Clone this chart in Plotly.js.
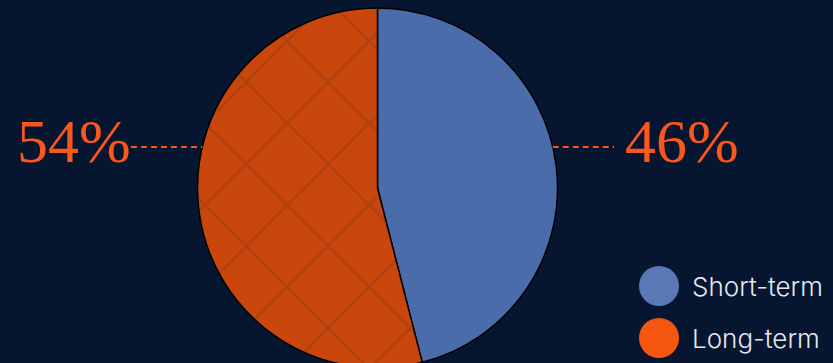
<!DOCTYPE html>
<html>
<head>
<meta charset="utf-8">
<script src="https://cdn.plot.ly/plotly-3.0.1.min.js"></script>
<style>
  html, body { margin: 0; padding: 0; background: #061530; overflow: hidden; }
  #chart { width: 833px; height: 376px; }
</style>
</head>
<body>
<div id="chart"></div>
<script>
// ---- data ----
const labels = ['Short-term', 'Long-term'];
const values = [46, 54];
const sliceColors = ['#4a6cab', '#c9460d'];
const legendColors = ['#5a78b6', '#f4560f'];
const labelColor = '#f9571b';

// ---- layout geometry (pixels) ----
const W = 833, H = 376, T = 8, B = 8;
const plotH = H - T - B;          // 360
const cx = 377.5, R = 180;
const px = x => x / W;
const py = y => (H - B - y) / plotH;  // y measured from top of page

const total = values.reduce((a, b) => a + b, 0);
const pct = values.map(v => Math.round(v / total * 100) + '%');

const trace = {
  type: 'pie',
  labels: labels,
  values: values,
  sort: false,
  direction: 'clockwise',
  rotation: 0,
  textinfo: 'none',
  hoverinfo: 'none',
  showlegend: false,
  domain: { x: [px(cx - R), px(cx + R)], y: [0, 1] },
  marker: {
    colors: sliceColors,
    line: { color: '#000000', width: 1.5 },
    pattern: {
      shape: ['', 'x'],
      size: 58,
      solidity: 0.09,
      bgcolor: sliceColors,
      fgcolor: '#a63f0f',
      fgopacity: 0.65
    }
  }
};

const labelY = 147;
const dy = labelY - (T + R);
const dx = Math.sqrt(R * R - dy * dy);

const shapes = [
  { type: 'line', xref: 'paper', yref: 'paper', x0: px(131), x1: px(cx - dx), y0: py(labelY), y1: py(labelY),
    line: { color: labelColor, width: 2, dash: '6px,4px' } },
  { type: 'line', xref: 'paper', yref: 'paper', x0: px(cx + dx), x1: px(614), y0: py(labelY), y1: py(labelY),
    line: { color: labelColor, width: 2, dash: '6px,4px' } }
];

const annotations = [
  { xref: 'paper', yref: 'paper', x: px(133), y: py(141), xanchor: 'right', yanchor: 'middle',
    text: pct[1], showarrow: false, font: { family: 'Liberation Serif, serif', size: 62, color: labelColor } },
  { xref: 'paper', yref: 'paper', x: px(623), y: py(141), xanchor: 'left', yanchor: 'middle',
    text: pct[0], showarrow: false, font: { family: 'Liberation Serif, serif', size: 62, color: labelColor } }
];

// custom legend with circles
const legendX = 659, legendY0 = 286, legendStep = 52;
labels.forEach((lab, i) => {
  const yc = legendY0 + i * legendStep;
  shapes.push({
    type: 'circle', xref: 'paper', yref: 'paper',
    xsizemode: 'pixel', ysizemode: 'pixel',
    xanchor: px(legendX), yanchor: py(yc),
    x0: -20, x1: 20, y0: -20, y1: 20,
    fillcolor: legendColors[i], line: { width: 0 }
  });
  annotations.push({
    xref: 'paper', yref: 'paper', x: px(690), y: py(yc), xanchor: 'left', yanchor: 'middle',
    text: lab, showarrow: false, font: { family: 'Inter, sans-serif', size: 26, weight: 300, color: '#e6e8ee' }
  });
});

const layout = {
  width: W, height: H,
  margin: { l: 0, r: 0, t: T, b: B, pad: 0 },
  paper_bgcolor: '#061530',
  plot_bgcolor: '#061530',
  showlegend: false,
  shapes: shapes,
  annotations: annotations
};

Plotly.newPlot('chart', [trace], layout, { displayModeBar: false, staticPlot: true });
</script>
</body>
</html>
